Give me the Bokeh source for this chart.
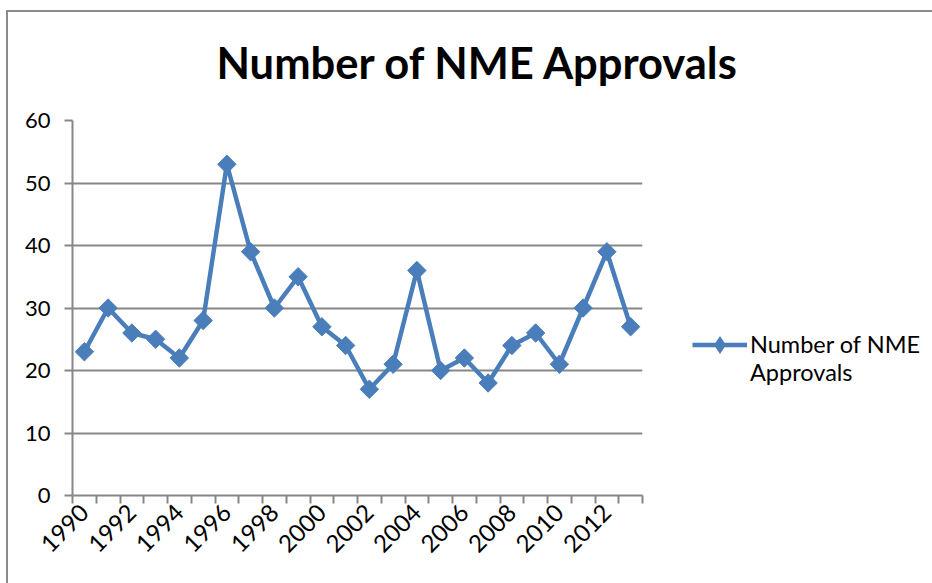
import math
from bokeh.plotting import figure
from bokeh.models import (Range1d, FixedTicker, Legend, LegendItem, Title,
                          ColumnDataSource)
from bokeh.embed import file_html
from bokeh.resources import INLINE

# ---- data ----
years = [1990, 1991, 1992, 1993, 1994, 1995, 1996, 1997, 1998, 1999, 2000, 2001,
         2002, 2003, 2004, 2005, 2006, 2007, 2008, 2009, 2010, 2011, 2012, 2013]
approvals = [23, 30, 26, 25, 22, 28, 53, 39, 30, 35, 27, 24,
             17, 21, 36, 20, 22, 18, 24, 26, 21, 30, 39, 27]
label_years = [1990, 1992, 1994, 1996, 1998, 2000, 2002, 2004, 2006, 2008, 2010, 2012]
y_ticks = [0, 10, 20, 30, 40, 50, 60]
title_text = "Number of NME Approvals"
series_name = "Number of NME\nApprovals"

FONT = "Lato"
BLUE = "#4A7EBB"
GRAY = "#878787"

src = ColumnDataSource(dict(x=years, y=approvals))

p = figure(frame_width=570, frame_height=375, output_backend="svg",
           toolbar_location=None,
           x_range=Range1d(years[0] - 0.5, years[-1] + 0.5),
           y_range=Range1d(0, 60),
           min_border_left=72, min_border_right=5,
           min_border_top=119, min_border_bottom=88)
p.styles = {"background": "linear-gradient(#8a8a8a,#8a8a8a) 6px 10px / 100% 2px no-repeat, "
                          "linear-gradient(#8a8a8a,#8a8a8a) 6px 10px / 2px 100% no-repeat, white"}
p.outline_line_color = None
p.background_fill_color = "white"
p.border_fill_alpha = 0

ln = p.line("x", "y", source=src, line_color=BLUE, line_width=4.5)
sc = p.scatter("x", "y", source=src, marker="square", angle=math.pi / 4,
               size=13, fill_color=BLUE, line_color=BLUE)
# diamond symbol used by the legend (zero size on the plot itself)
leg_marker = p.scatter("x", "y", source=src, marker="diamond", size=0,
                       fill_color=BLUE, line_color=None)

# x axis
xa = p.xaxis[0]
xa.ticker = FixedTicker(ticks=label_years,
                        minor_ticks=[y - 0.5 for y in years] + [years[-1] + 0.5])
xa.major_label_overrides = {y: str(y) for y in label_years}
xa.major_tick_out = 0
xa.major_tick_in = 0
xa.minor_tick_out = 8
xa.minor_tick_in = 0
xa.minor_tick_line_color = GRAY
xa.minor_tick_line_width = 2
xa.axis_line_color = GRAY
xa.axis_line_width = 2
xa.major_label_orientation = math.pi / 4
xa.major_label_text_font = FONT
xa.major_label_text_font_size = "24px"
xa.major_label_text_color = "black"
xa.major_label_standoff = 5

# y axis
ya = p.yaxis[0]
ya.ticker = FixedTicker(ticks=y_ticks)
ya.minor_tick_out = 0
ya.minor_tick_in = 0
ya.major_tick_out = 8
ya.major_tick_in = 0
ya.major_tick_line_color = GRAY
ya.major_tick_line_width = 2
ya.axis_line_color = GRAY
ya.axis_line_width = 2
ya.major_label_text_font = FONT
ya.major_label_text_font_size = "22px"
ya.major_label_text_color = "black"
ya.major_label_standoff = 14

p.xgrid.grid_line_color = None
p.ygrid.ticker = FixedTicker(ticks=y_ticks[1:])
p.ygrid.grid_line_color = GRAY
p.ygrid.grid_line_width = 2

# title
p.add_layout(Title(text=title_text, align="left", offset=144, standoff=66,
                   text_font=FONT, text_font_style="bold", text_font_size="43.5px",
                   text_color="black"), "above")

# legend: a leading blank line puts the symbol level with the first text line
legend = Legend(items=[LegendItem(label="\n" + series_name, renderers=[ln, leg_marker])],
                location=(50, 109), glyph_width=55, glyph_height=45,
                label_standoff=3, padding=0, margin=0,
                border_line_color=None, background_fill_alpha=0,
                label_text_font=FONT, label_text_font_size="23.5px",
                label_text_line_height=1.4, label_text_color="black")
p.add_layout(legend, "right")

open("out.html", "w").write(file_html(p, INLINE))
